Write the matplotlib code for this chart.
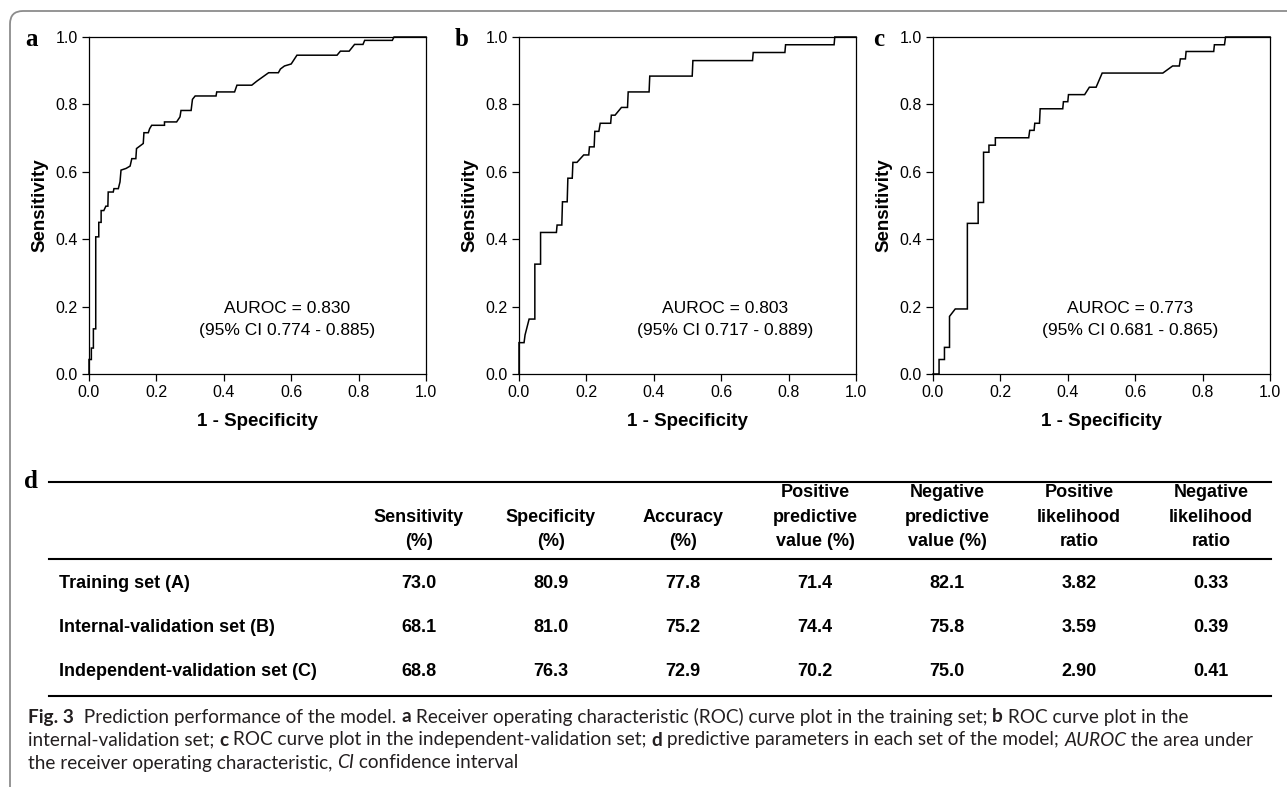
import matplotlib
matplotlib.use("Agg")
import matplotlib.pyplot as plt
from matplotlib.path import Path
from matplotlib.patches import PathPatch
from matplotlib import font_manager

# ---------------- data ----------------
roc_a_fpr = [0, 0, 0.007, 0.007, 0.013, 0.013, 0.020, 0.020, 0.029, 0.029, 0.036, 0.036, 0.044, 0.050,
             0.056, 0.057, 0.072, 0.074, 0.087, 0.092, 0.095, 0.110, 0.122, 0.127, 0.139, 0.141, 0.161,
             0.163, 0.176, 0.180, 0.186, 0.224, 0.224, 0.260, 0.270, 0.273, 0.303, 0.307, 0.315, 0.377,
             0.379, 0.432, 0.439, 0.483, 0.498, 0.512, 0.533, 0.562, 0.568, 0.580, 0.600, 0.617, 0.736,
             0.746, 0.772, 0.780, 0.788, 0.813, 0.818, 0.900, 0.905, 1.0]
roc_a_tpr = [0, 0.043, 0.043, 0.077, 0.077, 0.134, 0.134, 0.407, 0.407, 0.450, 0.450, 0.485, 0.485, 0.498,
             0.498, 0.540, 0.540, 0.550, 0.550, 0.570, 0.605, 0.610, 0.617, 0.639, 0.639, 0.669, 0.684,
             0.716, 0.716, 0.728, 0.738, 0.738, 0.748, 0.748, 0.763, 0.782, 0.782, 0.815, 0.825, 0.825,
             0.837, 0.837, 0.857, 0.857, 0.869, 0.879, 0.894, 0.894, 0.905, 0.914, 0.920, 0.946, 0.946,
             0.958, 0.958, 0.968, 0.978, 0.978, 0.990, 0.990, 1.0, 1.0]

roc_b_fpr = [0, 0, 0.015, 0.018, 0.030, 0.047, 0.047, 0.064, 0.064, 0.111, 0.113, 0.127, 0.129, 0.143,
             0.145, 0.158, 0.160, 0.172, 0.192, 0.207, 0.209, 0.223, 0.225, 0.237, 0.241, 0.272, 0.274,
             0.285, 0.304, 0.322, 0.324, 0.386, 0.388, 0.514, 0.516, 0.693, 0.695, 0.789, 0.791, 0.935,
             0.937, 1.0]
roc_b_tpr = [0, 0.093, 0.093, 0.116, 0.163, 0.163, 0.326, 0.326, 0.420, 0.420, 0.442, 0.442, 0.511, 0.511,
             0.581, 0.581, 0.628, 0.628, 0.650, 0.650, 0.674, 0.674, 0.720, 0.720, 0.744, 0.744, 0.768,
             0.768, 0.791, 0.791, 0.837, 0.837, 0.884, 0.884, 0.930, 0.930, 0.954, 0.954, 0.977, 0.977,
             1.0, 1.0]

roc_c_fpr = [0, 0.018, 0.018, 0.034, 0.034, 0.049, 0.049, 0.066, 0.102, 0.102, 0.134, 0.134, 0.150, 0.150,
             0.166, 0.166, 0.185, 0.185, 0.284, 0.287, 0.300, 0.302, 0.316, 0.318, 0.385, 0.387, 0.400,
             0.402, 0.450, 0.464, 0.484, 0.502, 0.682, 0.711, 0.731, 0.734, 0.749, 0.751, 0.833, 0.835,
             0.865, 0.868, 1.0]
roc_c_tpr = [0, 0, 0.043, 0.043, 0.079, 0.079, 0.171, 0.193, 0.193, 0.447, 0.447, 0.509, 0.509, 0.658,
             0.658, 0.679, 0.679, 0.701, 0.701, 0.723, 0.723, 0.744, 0.744, 0.787, 0.787, 0.808, 0.808,
             0.829, 0.829, 0.851, 0.851, 0.893, 0.893, 0.914, 0.914, 0.935, 0.935, 0.957, 0.957, 0.977,
             0.977, 1.0, 1.0]

panel_letters = ["a", "b", "c"]
auroc_lines = [("AUROC = 0.830", "(95% CI 0.774 - 0.885)"),
               ("AUROC = 0.803", "(95% CI 0.717 - 0.889)"),
               ("AUROC = 0.773", "(95% CI 0.681 - 0.865)")]
ticks = [0.0, 0.2, 0.4, 0.6, 0.8, 1.0]
tick_labels = ["0.0", "0.2", "0.4", "0.6", "0.8", "1.0"]

table_headers = [["Sensitivity", "(%)"], ["Specificity", "(%)"], ["Accuracy", "(%)"],
                 ["Positive", "predictive", "value (%)"], ["Negative", "predictive", "value (%)"],
                 ["Positive", "likelihood", "ratio"], ["Negative", "likelihood", "ratio"]]
row_labels = ["Training set (A)", "Internal-validation set (B)", "Independent-validation set (C)"]
sensitivity = ["73.0", "68.1", "68.8"]
specificity = ["80.9", "81.0", "76.3"]
accuracy = ["77.8", "75.2", "72.9"]
ppv = ["71.4", "74.4", "70.2"]
npv = ["82.1", "75.8", "75.0"]
plr = ["3.82", "3.59", "2.90"]
nlr = ["0.33", "0.39", "0.41"]

# ---------------- layout helpers ----------------
W, H = 1287, 787
fig = plt.figure(figsize=(W / 100, H / 100), dpi=100)
fig.patch.set_facecolor("white")

def fx(x):
    return x / W

def fy(y):
    return 1 - y / H

SANS = "Liberation Sans"
SERIF = "Liberation Serif"
avail = {f.name for f in font_manager.fontManager.ttflist}
CAP = "Lato" if "Lato" in avail else "DejaVu Sans"

# border (top and left, rounded corner)
verts = [(fx(1287), fy(11)), (fx(23), fy(11)), (fx(10), fy(11)), (fx(10), fy(24)), (fx(10), fy(787))]
codes = [Path.MOVETO, Path.LINETO, Path.CURVE3, Path.CURVE3, Path.LINETO]
fig.patches.append(PathPatch(Path(verts, codes), transform=fig.transFigure, fill=False,
                             edgecolor="#8c8c8c", lw=1.3))

# ---------------- ROC panels ----------------
axes_left = [89, 519, 933]
letter_x = [31, 462, 879]
auroc_x = [0.587, 0.611, 0.585]
curves = [(roc_a_fpr, roc_a_tpr), (roc_b_fpr, roc_b_tpr), (roc_c_fpr, roc_c_tpr)]
for i in range(3):
    ax = fig.add_axes([fx(axes_left[i]), fy(374), 337 / W, 337 / H])
    fpr, tpr = curves[i]
    ax.plot(fpr, tpr, color="black", lw=1.1, solid_joinstyle="miter", clip_on=False)
    ax.set_xlim(0, 1)
    ax.set_ylim(0, 1)
    ax.set_xticks(ticks)
    ax.set_yticks(ticks)
    ax.set_xticklabels(tick_labels, fontsize=11.5, family=SANS)
    ax.set_yticklabels(tick_labels, fontsize=11.5, family=SANS)
    ax.tick_params(direction="out", length=5, width=0.9, pad=3)
    for s in ax.spines.values():
        s.set_linewidth(0.9)
    ax.text(-0.145, 0.5, "Sensitivity", transform=ax.transAxes, rotation=90, ha="center",
            va="center", fontsize=13.5, fontweight="bold", family=SANS)
    ax.text(0.5, -0.14, "1 - Specificity", transform=ax.transAxes, ha="center", va="center",
            fontsize=13.5, fontweight="bold", family=SANS)
    ax.text(auroc_x[i], 0.193, auroc_lines[i][0], transform=ax.transAxes, ha="center",
            va="center", fontsize=12.5, family=SANS)
    ax.text(auroc_x[i], 0.128, auroc_lines[i][1], transform=ax.transAxes, ha="center",
            va="center", fontsize=12.5, family=SANS)
    fig.text(fx(letter_x[i]), fy(39), panel_letters[i], ha="center", va="center", fontsize=18,
             fontweight="bold", family=SERIF)

# ---------------- table (d) ----------------
fig.text(fx(31), fy(481), "d", ha="center", va="center", fontsize=18, fontweight="bold", family=SERIF)
tl, tr = 49, 1271
for y, lw in [(482, 1.5), (559, 1.5), (696, 1.5)]:
    fig.add_artist(plt.Line2D([fx(tl), fx(tr)], [fy(y), fy(y)], transform=fig.transFigure,
                              color="black", lw=lw))

col_x = [419 + 132 * k for k in range(7)]
header_rows = [493, 517, 541]
for k, hdr in enumerate(table_headers):
    start = 3 - len(hdr)
    for j, line in enumerate(hdr):
        fig.text(fx(col_x[k]), fy(header_rows[start + j]), line, ha="center", va="center",
                 fontsize=13, fontweight="bold", family=SANS)

row_y = [583, 628, 672]
columns = [sensitivity, specificity, accuracy, ppv, npv, plr, nlr]
for r in range(3):
    fig.text(fx(59), fy(row_y[r]), row_labels[r], ha="left", va="center", fontsize=13,
             fontweight="bold", family=SANS)
    for k, col in enumerate(columns):
        fig.text(fx(col_x[k]), fy(row_y[r]), col[r], ha="center", va="center", fontsize=13,
                 fontweight="bold", family=SANS)

# ---------------- caption ----------------
cap_lines = [
    [("Fig. 3", "bold", "normal"), ("  Prediction performance of the model. ", "normal", "normal"),
     ("a", "bold", "normal"),
     (" Receiver operating characteristic (ROC) curve plot in the training set; ", "normal", "normal"),
     ("b", "bold", "normal"), (" ROC curve plot in the", "normal", "normal")],
    [("internal-validation set; ", "normal", "normal"), ("c", "bold", "normal"),
     (" ROC curve plot in the independent-validation set; ", "normal", "normal"),
     ("d", "bold", "normal"), (" predictive parameters in each set of the model; ", "normal", "normal"),
     ("AUROC", "normal", "italic"), (" the area under", "normal", "normal")],
    [("the receiver operating characteristic, ", "normal", "normal"), ("CI", "normal", "italic"),
     (" confidence interval", "normal", "normal")],
]
renderer = fig.canvas.get_renderer()

def line_width(segs, size):
    tot = 0
    for txt, wgt, sty in segs:
        t = fig.text(0, 0, txt, fontsize=size, fontweight=wgt, fontstyle=sty, family=CAP)
        tot += t.get_window_extent(renderer).width
        t.remove()
    return tot

base = 12
cap_size = base * 1226 / line_width(cap_lines[1], base)
cap_y = [717, 740, 763]
for li, segs in enumerate(cap_lines):
    x = 28
    for txt, wgt, sty in segs:
        t = fig.text(fx(x), fy(cap_y[li]), txt, fontsize=cap_size, fontweight=wgt, fontstyle=sty,
                     family=CAP, ha="left", va="center", color="#231f20")
        x += t.get_window_extent(renderer).width

fig.savefig("out.png", dpi=100, facecolor="white")
